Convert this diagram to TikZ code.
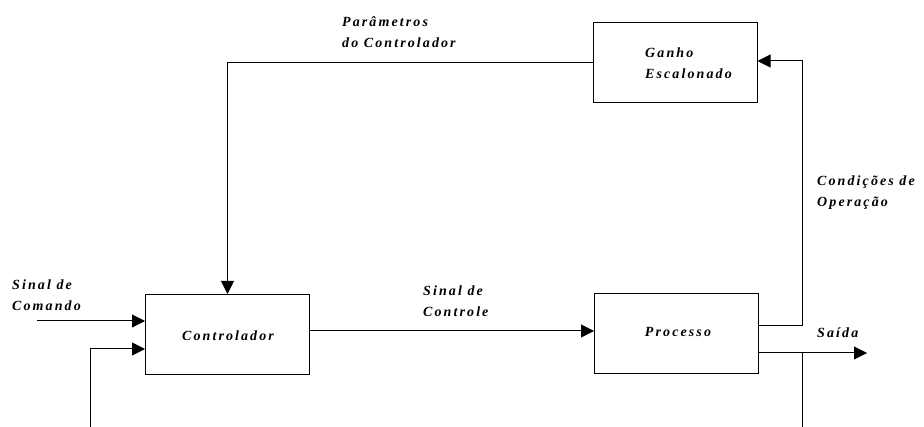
\documentclass[tikz,border=0pt]{standalone}
\usepackage{fontspec}
\usetikzlibrary{arrows.meta,calc}
\newfontfamily\labfont[LetterSpace=15]{Liberation Serif}
\begin{document}
\begin{tikzpicture}[x=1pt,y=-1pt,
  lab/.style={font=\labfont\bfseries\itshape\fontsize{14}{21}\selectfont,inner sep=0pt,align=left},
  blockbox/.style={draw,line width=1pt,minimum width=164pt,minimum height=80pt,inner sep=0pt},
  wire/.style={line width=1pt},
  arr/.style={wire,-{Triangle[length=13pt,width=13pt]}}]
\useasboundingbox (0,0) rectangle (924,427);

% blocks
\node[blockbox] (ctrl)  at (227.5,334.5) {};
\node[blockbox] (proc)  at (676.5,334)   {};
\node[blockbox] (ganho) at (675,63)      {};

% block texts
\node[lab] (tctrl) at (228,336) {Controlador};
\node[lab] (tproc) at (678,332) {Processo};
\node[lab,anchor=west] (tganho) at (645,63) {Ganho\\Escalonado};

% signal labels
\node[lab,anchor=west] (tpar) at (342,32)  {Parâmetros\\do Controlador};
\node[lab,anchor=west] (tcond) at (817,193) {Condições de\\Operação};
\node[lab,anchor=west] (tcmd) at (12,295)  {Sinal de\\Comando};
\node[lab,anchor=west] (tsc) at (423,301)   {Sinal de\\Controle};
\node[lab,anchor=west] (tsai) at (817,333)  {Saída};

% free ends and corners
\coordinate (cmdin) at (37,321);
\coordinate (fbl)   at (90,427);
\coordinate (riser) at (802,61);
\coordinate (outtip) at (867,353);
\coordinate (fbr)   at (802,427);

% gain scheduling path to the controller
\draw[arr] (ganho.west) -| (ctrl.north);

% command input and feedback input
\draw[arr] (cmdin) -- (cmdin -| ctrl.west);
\draw[arr] (fbl) |- ($(ctrl.west)+(0,14.5)$);

% control signal
\draw[arr] ($(ctrl.east)+(0,-3.5)$) -- ($(proc.west)+(0,-3)$);

% operating conditions to the scheduler
\draw[arr] ($(proc.east)+(0,-8)$) -| (riser) -- (ganho.east |- riser);

% output and feedback tap
\draw[arr] ($(proc.east)+(0,19)$) -- (outtip);
\draw[wire] (fbr |- outtip) -- (fbr);
\end{tikzpicture}
\end{document}
